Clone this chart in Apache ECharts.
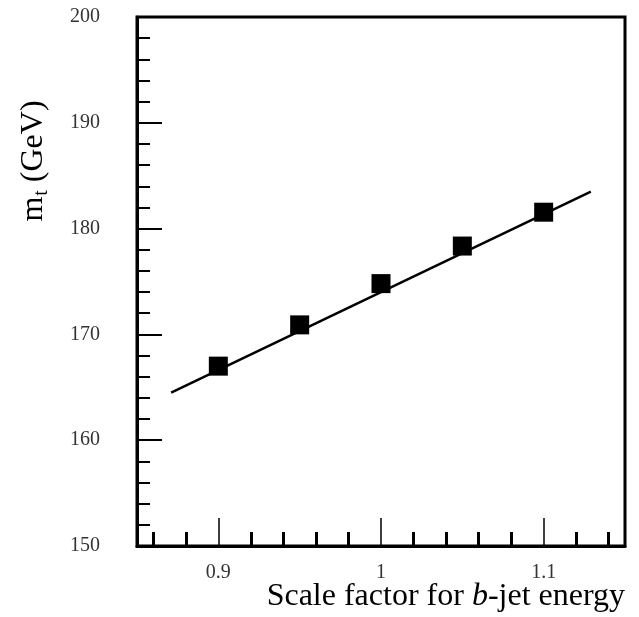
<!DOCTYPE html>
<html>
<head>
<meta charset="utf-8">
<script src="https://cdn.jsdelivr.net/npm/echarts@6/dist/echarts.min.js"></script>
<style>html,body{margin:0;padding:0;background:#fff;}#c{width:639px;height:617px;}</style>
</head>
<body>
<div id="c"></div>
<script>
// Data
const scaleFactors = [0.9, 0.95, 1.0, 1.05, 1.1];
const topMass = [167.0, 170.9, 174.8, 178.35, 181.55];
const fitX = [0.871, 1.129];
const fitY = [164.5, 183.5];
const xLabelValues = [0.9, 1.0, 1.1];
const xMinorTicks = [0.86, 0.88, 0.92, 0.94, 0.96, 0.98, 1.02, 1.04, 1.06, 1.08, 1.12, 1.14];

const serif = '"Liberation Serif", "Times New Roman", serif';
const chart = echarts.init(document.getElementById('c'), null, {renderer: 'canvas'});

const option = {
  backgroundColor: '#fff',
  animation: false,
  grid: {left: 137, top: 17, right: 14, bottom: 71, show: true, borderColor: '#000', borderWidth: 3, backgroundColor: 'transparent'},
  xAxis: [
    {
      type: 'value', min: 0.85, max: 1.15,
      axisLine: {show: true, lineStyle: {color: '#000', width: 3}},
      splitLine: {show: false},
      axisTick: {show: true, inside: true, length: 28, customValues: xLabelValues, lineStyle: {color: '#000', width: 1.5}},
      axisLabel: {customValues: xLabelValues, margin: 17, color: '#333', fontFamily: serif, fontSize: 20,
        formatter: v => String(Math.round(v * 100) / 100)}
    },
    {
      type: 'value', min: 0.85, max: 1.15, position: 'bottom',
      axisLine: {show: false},
      splitLine: {show: false},
      axisTick: {show: true, inside: true, length: 14, customValues: xMinorTicks, lineStyle: {color: '#000', width: 3}},
      axisLabel: {show: false}
    }
  ],
  yAxis: {
    type: 'value', min: 150, max: 200, interval: 10,
    axisLine: {show: true, lineStyle: {color: '#000', width: 3}},
    splitLine: {show: false},
    axisTick: {show: true, inside: true, length: 25, lineStyle: {color: '#000', width: 2}},
    minorTick: {show: true, splitNumber: 5, length: 13, lineStyle: {color: '#000', width: 2}},
    axisLabel: {margin: 37, color: '#333', fontFamily: serif, fontSize: 20}
  },
  graphic: [
    {
      type: 'text', x: 625, y: 597,
      style: {
        text: '{n|Scale factor for }{i|b}{n|-jet energy}',
        align: 'right', verticalAlign: 'middle',
        rich: {
          n: {fontFamily: serif, fontSize: 32, fill: '#000'},
          i: {fontFamily: serif, fontSize: 32, fontStyle: 'italic', fill: '#000'}
        }
      }
    },
    {
      type: 'text', x: 34, y: 161, rotation: Math.PI / 2,
      style: {
        text: '{m|m}{s|t}{m| (GeV)}',
        align: 'center', verticalAlign: 'middle',
        rich: {
          m: {fontFamily: serif, fontSize: 32, fill: '#000', lineHeight: 36},
          s: {fontFamily: serif, fontSize: 20, fill: '#000', lineHeight: 36, padding: [16, 0, 0, 1]}
        }
      }
    }
  ],
  series: [
    {
      type: 'line', xAxisIndex: 0,
      data: fitX.map((x, i) => [x, fitY[i]]),
      symbol: 'none', lineStyle: {color: '#000', width: 2.5}, z: 2
    },
    {
      type: 'scatter', xAxisIndex: 0,
      data: scaleFactors.map((x, i) => [x, topMass[i]]),
      symbol: 'rect', symbolSize: 19, itemStyle: {color: '#000', opacity: 1}, z: 3
    }
  ]
};
chart.setOption(option);
</script>
</body>
</html>
